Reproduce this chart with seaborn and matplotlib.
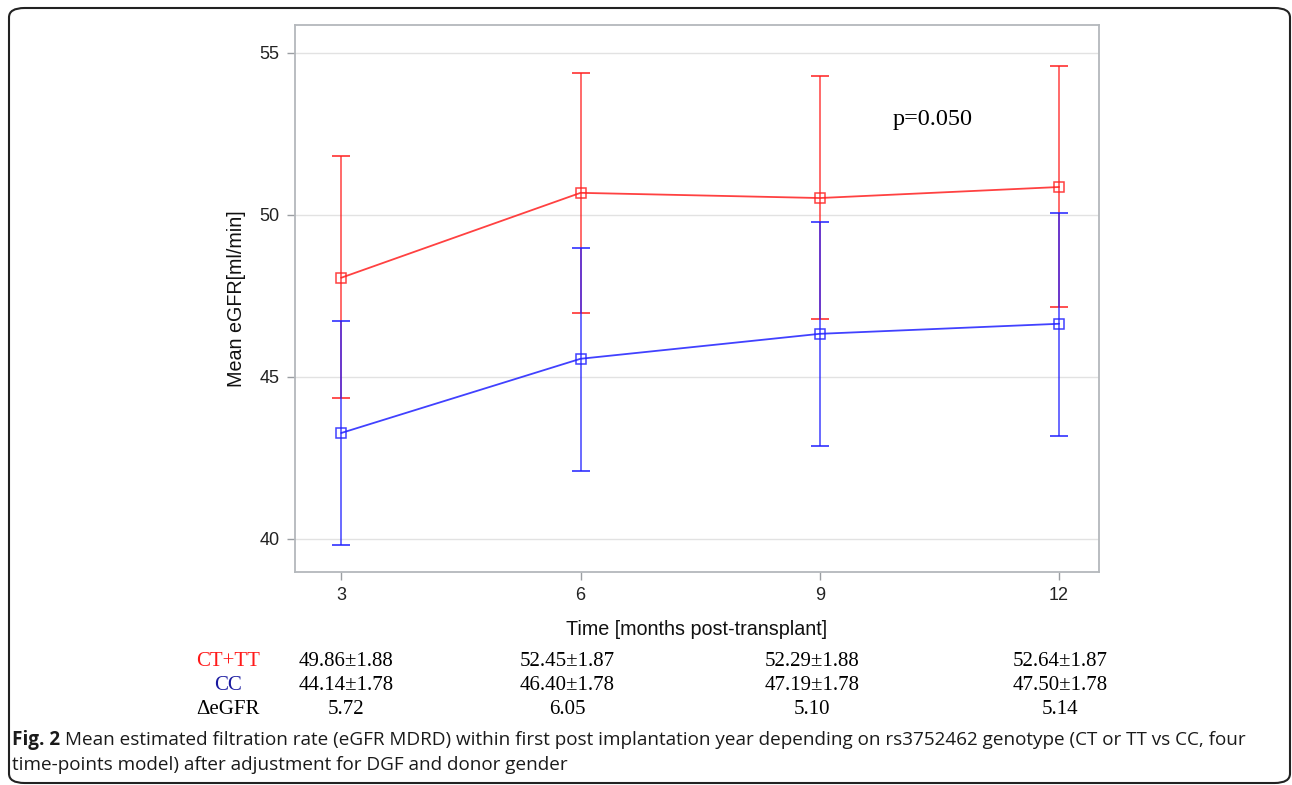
import matplotlib
matplotlib.use('Agg')
import matplotlib.pyplot as plt
import seaborn as sns
import pandas as pd
from matplotlib.patches import FancyBboxPatch

# Data
months = [3, 6, 9, 12]
ct_tt_mean = [48.06, 50.68, 50.52, 50.86]
ct_tt_low = [44.35, 46.97, 46.79, 47.16]
ct_tt_high = [51.82, 54.38, 54.29, 54.60]
cc_mean = [43.27, 45.56, 46.33, 46.64]
cc_low = [39.81, 42.10, 42.87, 43.18]
cc_high = [46.73, 48.98, 49.78, 50.06]

table_ct_tt = ['49.86±1.88', '52.45±1.87', '52.29±1.88', '52.64±1.87']
table_cc = ['44.14±1.78', '46.40±1.78', '47.19±1.78', '47.50±1.78']
table_delta = ['5.72', '6.05', '5.10', '5.14']

sns.set_theme(style='white')
plt.rcParams['font.family'] = ['Liberation Sans', 'DejaVu Sans']

df = pd.DataFrame({
    'month': months * 2,
    'egfr': ct_tt_mean + cc_mean,
    'group': ['CT+TT'] * 4 + ['CC'] * 4,
})
palette = {'CT+TT': '#ff2020', 'CC': '#2020ff'}

fig = plt.figure(figsize=(12.92, 7.85), dpi=100)
ax = fig.add_axes([0.2283, 0.2713, 0.6223, 0.6969])

sns.lineplot(data=df, x='month', y='egfr', hue='group', palette=palette,
             marker='s', markersize=6.5, markerfacecolor='none',
             markeredgewidth=1.1, linewidth=1.3, alpha=0.85,
             legend=False, ax=ax, zorder=4)
for line in ax.lines:
    line.set_markeredgecolor(line.get_color())

# error bars (red first, blue on top)
for mean, low, high, grp in [(ct_tt_mean, ct_tt_low, ct_tt_high, 'CT+TT'),
                             (cc_mean, cc_low, cc_high, 'CC')]:
    yerr = [[m - l for m, l in zip(mean, low)], [h - m for m, h in zip(mean, high)]]
    ax.errorbar(months, mean, yerr=yerr, fmt='none', ecolor=palette[grp],
                elinewidth=1.1, capsize=6.5, capthick=1.3, alpha=0.85, zorder=3)

ax.set_xlim(2.42, 12.5)
ax.set_ylim(38.98, 55.86)
ax.set_xticks(months)
ax.set_yticks([40, 45, 50, 55])
ax.yaxis.grid(True, color='#e2e2e2', linewidth=1)
ax.xaxis.grid(False)
for sp in ax.spines.values():
    sp.set_color('#b4b8bc')
    sp.set_linewidth(1.3)
ax.tick_params(axis='both', which='both', length=6, width=1, color='#9a9ea2',
               labelsize=13, labelcolor='#222222', pad=5, bottom=True, left=True)
ax.set_xlabel('Time [months post-transplant]', fontsize=14.2, color='#111111', labelpad=11)
ax.set_ylabel('Mean eGFR[ml/min]', fontsize=14.2, color='#111111', labelpad=10)

ax.text(10.41, 52.95, 'p=0.050', family='Liberation Serif', fontsize=17.4,
        ha='center', va='center', color='black')

# table under the chart (column centres in figure pixels)
col_x = [346, 567, 812, 1060]
rows = [('CT+TT', '#ff1a1a', table_ct_tt, 661),
        ('CC', '#1a1aa0', table_cc, 685),
        ('\u0394eGFR', 'black', table_delta, 709)]
for label, col, vals, yy in rows:
    fig.text(228 / 1292, 1 - yy / 785, label, family='Liberation Serif', fontsize=15,
             color=col, ha='center', va='center')
    for cx, v in zip(col_x, vals):
        fig.text(cx / 1292, 1 - yy / 785, v, family='Liberation Serif', fontsize=15,
                 color='black', ha='center', va='center')

# caption
cap_font = ['Open Sans', 'DejaVu Sans']
fig.canvas.draw()
renderer = fig.canvas.get_renderer()
t1 = fig.text(12 / 1292, 1 - 740 / 785, 'Fig. 2', family=cap_font, fontsize=13.6,
              fontweight='bold', color='#1a1a1a', va='center', ha='left')
w = t1.get_window_extent(renderer).width / fig.bbox.width
fig.text(12 / 1292 + w + 5 / 1292, 1 - 740 / 785,
         'Mean estimated filtration rate (eGFR MDRD) within first post implantation year '
         'depending on rs3752462 genotype (CT or TT vs CC, four',
         family=cap_font, fontsize=13.6, color='#1a1a1a', va='center', ha='left')
fig.text(12 / 1292, 1 - 765 / 785, 'time-points model) after adjustment for DGF and donor gender',
         family=cap_font, fontsize=13.6, color='#1a1a1a', va='center', ha='left')

# rounded frame around the figure
frame = FancyBboxPatch((9 / 1292, 2 / 785), 1281 / 1292, 775 / 785,
                       boxstyle='round,pad=0,rounding_size=0.012',
                       transform=fig.transFigure, fill=False,
                       edgecolor='#222222', linewidth=1.5)
fig.patches.append(frame)

fig.savefig('out.png', dpi=100)
